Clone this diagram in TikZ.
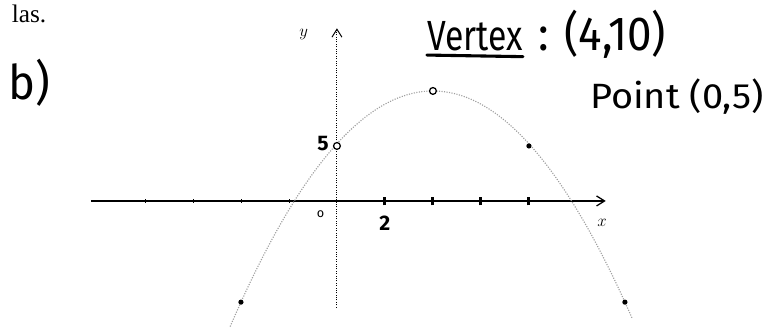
\documentclass[tikz,border=0pt]{standalone}
\usepackage{fontspec}
\setmainfont{Liberation Serif}
\newfontfamily\handfont{Fira Sans}
\usetikzlibrary{positioning,arrows.meta}

\begin{document}
\begin{tikzpicture}[
  x=0.6cm, y=0.275cm,
  >={Straight Barb[length=2mm,width=2.5mm]},
  axis/.style={line width=0.9pt},
  hand/.style={font=\handfont\fontsize{30}{32}\selectfont, inner sep=0pt},
  small/.style={font=\handfont\bfseries\fontsize{15}{16}\selectfont, inner sep=0pt},
  dot/.style={circle,fill=black,inner sep=0pt,minimum size=1.3mm},
  ring/.style={circle,draw,line width=0.9pt,fill=white,inner sep=0pt,minimum size=1.7mm},
  tick/.style={line width=2.2pt},
  node distance=1.5mm
]
  \useasboundingbox (-14.04,-11.73) rectangle (18.42,18.27);

  % axes
  \coordinate (O) at (0,0);
  \coordinate (xl) at (-10.25,0);
  \coordinate (xr) at (11.2,0);
  \coordinate (yb) at (0,-9.7);
  \coordinate (yt) at (0,15.7);
  \draw[axis,->] (xl) -- (xr);
  \draw[line width=0.7pt,densely dotted,->] (yb) -- (yt);
  \node[font=\handfont\fontsize{12}{12}\selectfont] (xlbl) at (11.05,-2) {$x$};
  \node[font=\handfont\fontsize{12}{12}\selectfont,left=6mm of yt,yshift=-1.5mm] (ylbl) {$y$};
  \node[font=\handfont\fontsize{9}{9}\selectfont] (olbl) at (-0.68,-1.2) {o};

  % ticks
  \foreach \i in {2,4,6,8}
    \draw[tick] (\i,-0.4) -- (\i,0.4);
  \foreach \i in {-2,-4,-6,-8}
    \draw[line width=0.6pt] (\i,-0.15) -- (\i,0.2);
  \coordinate (t2) at (2,-0.4);
  \node[small,below=2.5mm of t2] (two) {2};

  % parabola
  \draw[gray!75,densely dotted,line width=0.8pt]
    plot[domain=-4.45:12.3,samples=80,smooth] (\x,{10-0.3*(\x-4)^2});

  % points
  \node[ring] (vert) at (4,10) {};
  \node[ring] (pt05) at (0,5) {};
  \node[small,left=1mm of pt05,yshift=0.6mm] (five) {5};
  \node[dot] (pt85) at (8,5) {};
  \node[dot] (ptl) at (-4,-9.2) {};
  \node[dot] (ptr) at (12,-9.2) {};

  % texts
  \node[hand,anchor=base west] (vertexlbl) at (3.75,13.7) {\scalebox{0.8}[1]{Vertex}};
  \node[hand,anchor=base west,font=\handfont\fontsize{34}{36}\selectfont] (vertexval) at (8.4,13.7) {\scalebox{0.92}[1]{: (4,10)}};
  \draw[line width=2.2pt,line cap=round] ([yshift=-1.2mm]vertexlbl.base west) -- ([yshift=-1.6mm]vertexlbl.base east);
  \node[hand,anchor=base west,font=\handfont\fontsize{25}{27}\selectfont] (pointlbl) at (10.54,8.45) {\scalebox{1.08}[1]{Point (0,5)}};
  \node[hand,anchor=base west,font=\handfont\fontsize{34}{36}\selectfont] (partlbl) at (-13.7,9.2) {\scalebox{0.95}[1]{b)}};
  \node[anchor=base east,font=\fontsize{18}{18}\selectfont,inner sep=0pt] (clipped) at (-12.1,16.2) {las.};
\end{tikzpicture}
\end{document}
